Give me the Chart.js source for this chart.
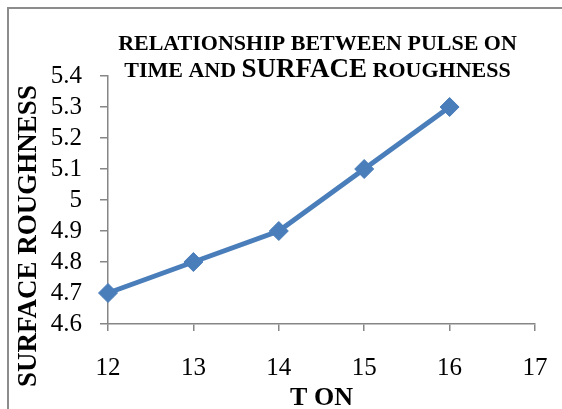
<!DOCTYPE html>
<html>
<head>
<meta charset="utf-8">
<script src="https://cdn.jsdelivr.net/npm/chart.js@4/dist/chart.umd.min.js"></script>
<style>
html,body{margin:0;padding:0;background:#fff;}
#wrap{position:relative;width:562px;height:409px;}
</style>
</head>
<body>
<div id="wrap"><canvas id="c" width="562" height="409"></canvas></div>
<script>
const tOn = [12, 13, 14, 15, 16];
const roughness = [4.7, 4.8, 4.9, 5.1, 5.3];
const xTicks = [12, 13, 14, 15, 16, 17];
const yTicks = [4.6, 4.7, 4.8, 4.9, 5.0, 5.1, 5.2, 5.3, 5.4];
const titleLine1 = 'RELATIONSHIP BETWEEN PULSE ON';
const titleLine2 = [['TIME AND ', 22], ['SURFACE', 27], [' ROUGHNESS', 22]];
const yTitle = 'SURFACE ROUGHNESS';
const xTitle = 'T ON';

const points = tOn.map((x, i) => ({x: x, y: roughness[i]}));
const AXIS = '#868686';
const SERIF_B = '"Liberation Serif", "Times New Roman", serif';

const decor = {
  id: 'decor',
  beforeDraw(chart) {
    const ctx = chart.ctx;
    ctx.save();
    ctx.fillStyle = '#fff';
    ctx.fillRect(0, 0, chart.width, chart.height);
    ctx.fillStyle = '#8c8c8c';
    ctx.fillRect(7, 7, 2, chart.height);
    ctx.fillRect(7, 7, chart.width, 2);
    ctx.restore();
  },
  afterDraw(chart) {
    const ctx = chart.ctx;
    const a = chart.chartArea;
    const cx = (a.left + a.right) / 2;
    ctx.save();
    ctx.fillStyle = '#000';
    ctx.textBaseline = 'alphabetic';
    ctx.font = 'bold 22px ' + SERIF_B;
    ctx.textAlign = 'center';
    ctx.fillText(titleLine1, cx - 4, 50);
    let total = 0;
    titleLine2.forEach(([t, s]) => { ctx.font = 'bold ' + s + 'px ' + SERIF_B; total += ctx.measureText(t).width; });
    let x = cx - 4 - total / 2;
    ctx.textAlign = 'left';
    titleLine2.forEach(([t, s]) => {
      ctx.font = 'bold ' + s + 'px ' + SERIF_B;
      ctx.fillText(t, x, 77);
      x += ctx.measureText(t).width;
    });
    ctx.textAlign = 'center';
    ctx.font = 'bold 26px ' + SERIF_B;
    ctx.fillText(xTitle, cx, 405);
    ctx.translate(36, 236);
    ctx.rotate(-Math.PI / 2);
    ctx.font = 'bold 27px ' + SERIF_B;
    ctx.fillText(yTitle, 0, 0);
    ctx.restore();
  }
};

new Chart(document.getElementById('c'), {
  type: 'line',
  data: {
    datasets: [{
      data: points,
      borderColor: '#4a7ebb',
      backgroundColor: '#4a7ebb',
      borderWidth: 5,
      pointStyle: 'rectRot',
      pointRadius: 9.5,
      pointHoverRadius: 9.5,
      pointBorderWidth: 1,
      pointBackgroundColor: '#4a7ebb',
      pointBorderColor: '#4a7ebb',
      tension: 0,
      clip: false
    }]
  },
  options: {
    responsive: false,
    animation: false,
    events: [],
    layout: {padding: {top: 76, right: 27, left: 0, bottom: 0}},
    plugins: {legend: {display: false}, tooltip: {enabled: false}, title: {display: false}},
    scales: {
      x: {
        type: 'linear',
        min: xTicks[0],
        max: xTicks[xTicks.length - 1],
        afterBuildTicks(s) { s.ticks = xTicks.map(v => ({value: v})); },
        afterFit(s) { s.height = 85; s.paddingLeft = 0; s.paddingRight = 0; },
        grid: {drawOnChartArea: false, drawTicks: true, tickLength: 7, color: AXIS, lineWidth: 1.5},
        border: {color: AXIS, width: 1.5},
        ticks: {color: '#000', padding: 22, autoSkip: false, font: {family: '"Liberation Serif", serif', size: 25}, maxRotation: 0}
      },
      y: {
        type: 'linear',
        min: yTicks[0],
        max: yTicks[yTicks.length - 1],
        afterBuildTicks(s) { s.ticks = yTicks.map(v => ({value: v})); },
        afterFit(s) { s.width = 108; s.paddingTop = 0; s.paddingBottom = 0; },
        grid: {drawOnChartArea: false, drawTicks: true, tickLength: 8, color: AXIS, lineWidth: 1.5},
        border: {color: AXIS, width: 1.5},
        ticks: {
          color: '#000', padding: 18, autoSkip: false, font: {family: '"Liberation Serif", serif', size: 25},
          callback: v => String(Number(v.toFixed(1)))
        }
      }
    }
  },
  plugins: [decor]
});
</script>
</body>
</html>
